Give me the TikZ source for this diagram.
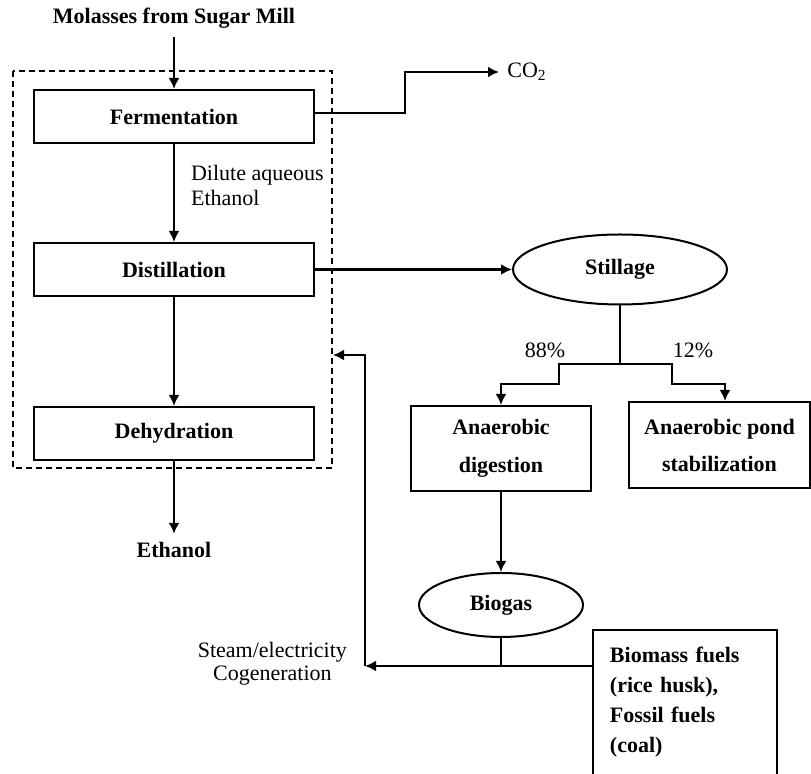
\documentclass[tikz,border=0pt]{standalone}
\usepackage{fontspec}
\setmainfont{Liberation Serif}
\usetikzlibrary{shapes.geometric,positioning,arrows.meta}
\tikzset{>={Latex[length=5.5pt,width=5.5pt]}}
\tikzset{
  stage/.style={draw,line width=1pt,minimum width=140pt,minimum height=26.5pt,inner sep=0pt,font=\bfseries},
  pool/.style={draw,ellipse,line width=1pt,inner sep=0pt,font=\bfseries},
  flow/.style={->,line width=1.1pt},
  tag/.style={inner sep=0pt}
}

\begin{document}
\begin{tikzpicture}[x=0.5pt,y=-0.5pt,line width=1.1pt]
\fontsize{11}{13}\selectfont
\useasboundingbox (0,0) rectangle (811,774);
\clip (0,0) rectangle (811,774);
      % ethanol line
      \node[font=\bfseries] (mill) at (174,18) {Molasses from Sugar Mill};
      \node[stage] (ferm) at (174,116.5) {Fermentation};
      \node[stage] (dist) at (174,269.5) {Distillation};
      \node[stage] (dehy) at (174,433.5) {Dehydration};
      \node[font=\bfseries] (eth) at (174,550) {Ethanol};
      \draw[line width=.6pt,dash pattern=on 3pt off 2pt] (13,71) rectangle (332,468);
      \node[tag,anchor=west,align=left,font=\fontsize{11}{12.5}\selectfont] (dil) at (190,185.5) {Dilute aqueous\\Ethanol};
      \node[anchor=west] (co2) at (499,72) {CO\textsubscript{2}};
      \coordinate (up) at (405,72);
      \draw[flow] (mill) -- (ferm);
      \draw[flow] (ferm) -- (dist);
      \draw[flow] (dist) -- (dehy);
      \draw[flow] (dehy) -- (eth);
      \draw[flow] ([yshift=1.75pt]ferm.east) -| (up) -- (co2.west);
      % stillage
      \node[pool,minimum width=107pt,minimum height=35pt] (still) at (620,269.5) {Stillage};
      \node[stage,minimum width=90pt,minimum height=42.5pt,align=center] (dig) at (501,448.5) {Anaerobic\\[6pt]digestion};
      \node[stage,minimum width=90.5pt,minimum height=43pt,align=center] (pond) at (719.5,445) {Anaerobic pond\\[5.5pt]stabilization};
      \node (p88) at (545,350) {88\%};
      \node (p12) at (693,350) {12\%};
      \coordinate (split) at (620,364);
      \coordinate (jl) at (559,384);
      \coordinate (jr) at (672,384);
      \draw[flow] (dist) -- (still);
      \draw (still) -- (split);
      \draw[flow] (split) -| (jl) -| (dig);
      \draw[flow] (split) -| (jr) -| ([xshift=2.75pt]pond.north);
      % biogas and return
      \node[pool,minimum width=82pt,minimum height=32pt] (gas) at (501,605) {Biogas};
      \node[draw,line width=1pt,minimum width=92pt,minimum height=85pt,inner xsep=8.5pt,text width=75pt,align=left,font=\bfseries\fontsize{11}{15}\selectfont] (fuel) at (685,715) {Biomass fuels\\(rice husk),\\Fossil fuels\\(coal)\\\mbox{}};
      \node[tag,anchor=east,align=center,font=\fontsize{11}{11.5}\selectfont] (steam) at (348,663.5) {Steam/electricity\\Cogeneration};
      \coordinate (corner) at (365,666);
      \coordinate (ret) at (365,355);
      \coordinate (boxin) at (333,355);
      \draw[flow] (dig) -- (gas);
      \draw (gas) -- (gas |- corner);
      \draw[flow] (fuel.west |- corner) -- (corner);
      \draw[flow] (corner) -- (ret) -- (boxin);
\end{tikzpicture}
\end{document}
